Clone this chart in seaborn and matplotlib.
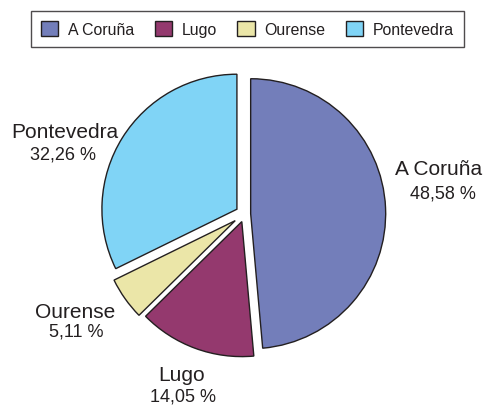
import matplotlib
matplotlib.use('Agg')
import matplotlib.pyplot as plt
import seaborn as sns

# Datos: distribución por provincia
provincias = ['A Coruña', 'Lugo', 'Ourense', 'Pontevedra']
porcentajes = [48.58, 14.05, 5.11, 32.26]
etiquetas_pct = ['48,58 %', '14,05 %', '5,11 %', '32,26 %']
colores = ['#737EBA', '#94396E', '#EBE6A8', '#80D4F6']

# separación de cada porción (en radios)
explode = [0.045, 0.06, 0.085, 0.067]

sns.set_theme(style='white')
plt.rcParams['font.family'] = ['Liberation Sans', 'DejaVu Sans']

W, H = 487, 406
fig = plt.figure(figsize=(W / 100, H / 100), dpi=100)
ax = fig.add_axes([0, 0, 1, 1])

wedges, _ = ax.pie(porcentajes, explode=explode, colors=sns.color_palette(colores),
                   startangle=90, counterclock=False, radius=1,
                   wedgeprops=dict(edgecolor='#231F20', linewidth=1))

# escala: 135 px por radio, centro en (244.6, 215) px
cx, cy, r = 244.6, 215, 135
ax.set_xlim(-cx / r, (W - cx) / r)
ax.set_ylim(-(H - cy) / r, cy / r)
ax.set_aspect('auto')
ax.axis('off')

# posición de las etiquetas (px: x centro, línea base)
pos_nombre = [(439, 175.3), (181.7, 381), (75, 318), (65, 138.3)]
pos_pct = [(442.5, 198.3), (182.5, 402), (76, 336.7), (63.3, 160)]
for nombre, pct, pn, pp in zip(provincias, etiquetas_pct, pos_nombre, pos_pct):
    fig.text(pn[0] / W, 1 - pn[1] / H, nombre, ha='center', va='baseline',
             fontsize=15, color='#231F20')
    fig.text(pp[0] / W, 1 - pp[1] / H, pct, ha='center', va='baseline',
             fontsize=13, color='#231F20')

leg = fig.legend(wedges, provincias, loc='center', bbox_to_anchor=(0.508, 1 - 30 / H),
                 ncol=4, fontsize=11.4, frameon=True, fancybox=False, shadow=False,
                 handlelength=1.1, handleheight=1.1, handletextpad=0.6,
                 columnspacing=1.3, borderpad=0.65, labelcolor='#231F20')
leg.get_frame().set_edgecolor('#231F20')
leg.get_frame().set_linewidth(1)
for h in leg.legend_handles:
    h.set_linewidth(1)

fig.savefig('out.png', dpi=100)
